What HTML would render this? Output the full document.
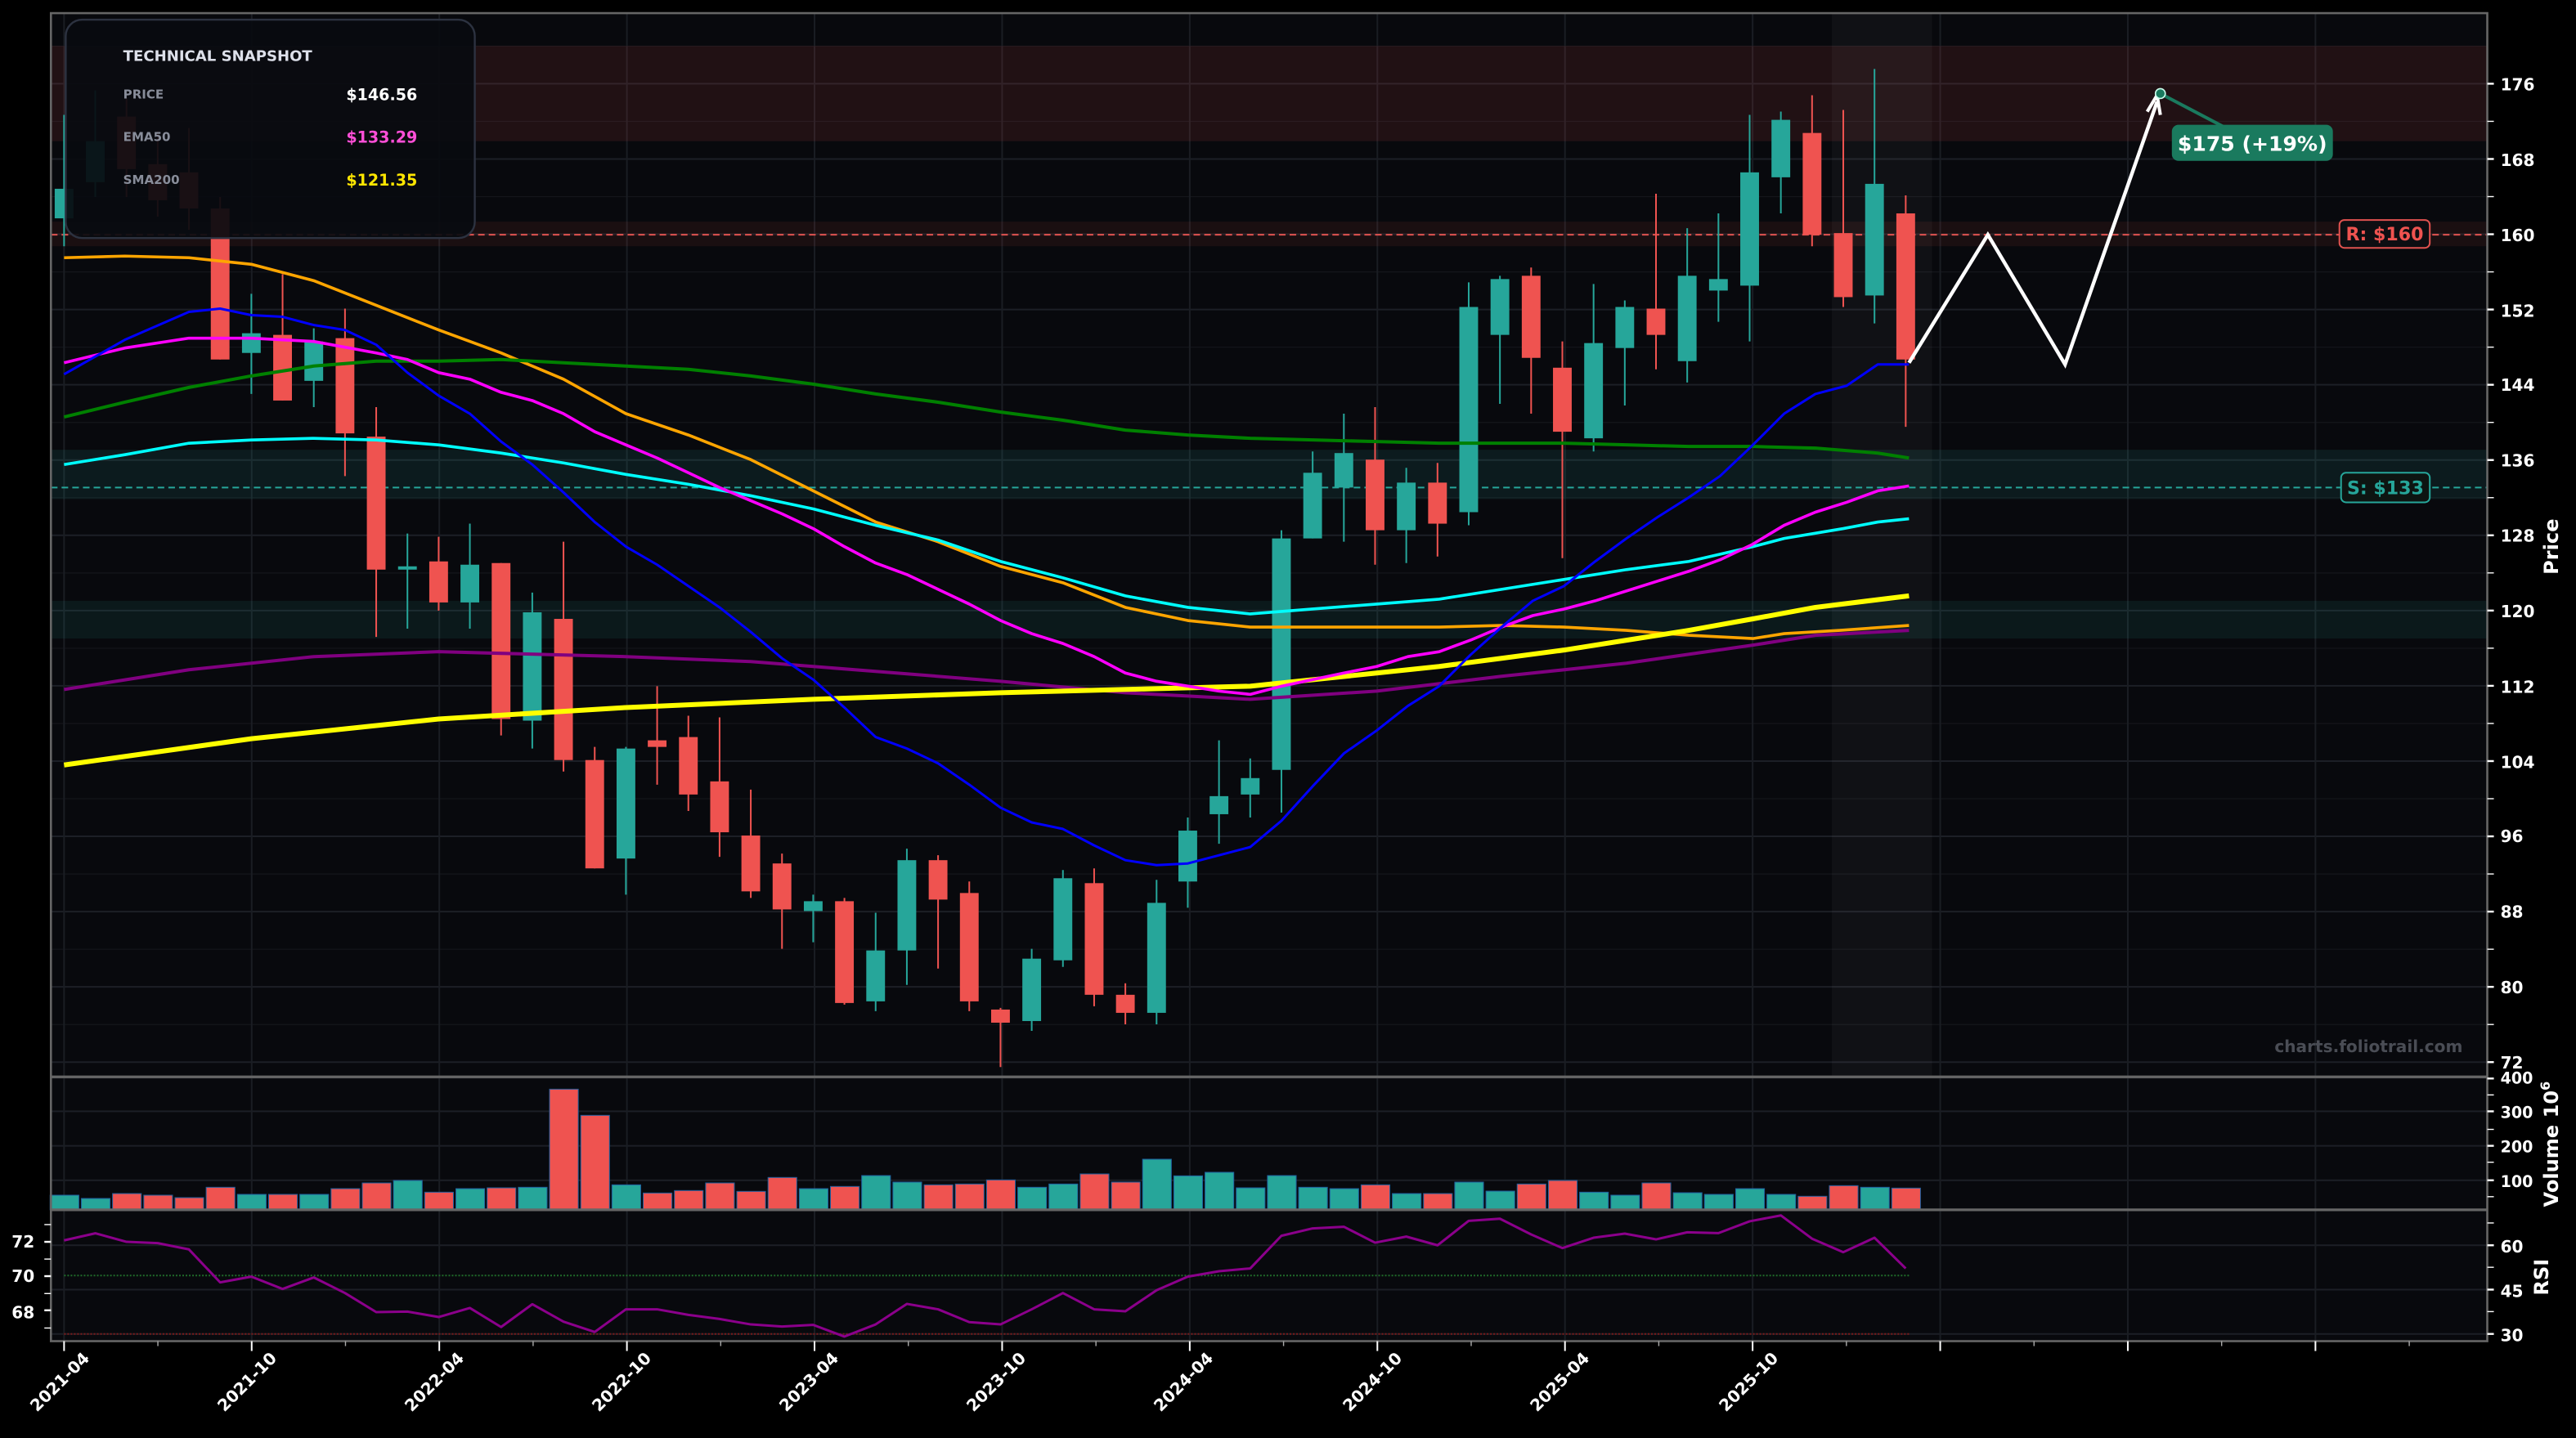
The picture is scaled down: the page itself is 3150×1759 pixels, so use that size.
<!DOCTYPE html>
<html><head><meta charset="utf-8">
<style>
html,body{margin:0;padding:0;background:#000;}
svg{display:block;}
text{font-family:"DejaVu Sans","Liberation Sans",sans-serif;font-weight:bold;}
</style></head>
<body>
<svg id="s" width="3150" height="1759" viewBox="0 0 1568 876" preserveAspectRatio="none" xmlns="http://www.w3.org/2000/svg">
<rect x="0" y="0" width="1568" height="876" fill="#000"/>
<rect x="31" y="8" width="1483" height="809" fill="#08090d"/>
<g id="grid"></g>
<rect x="31" y="28" width="1483" height="58" fill="rgba(239,83,80,0.11)"/>
<rect x="31" y="135" width="1483" height="15" fill="rgba(239,83,80,0.08)"/>
<rect x="31" y="274" width="1483" height="30" fill="rgba(38,166,154,0.12)"/>
<rect x="31" y="366" width="1483" height="23" fill="rgba(38,166,154,0.10)"/>
<rect x="1115" y="8" width="61" height="648" fill="rgba(255,255,255,0.035)"/>
<line x1="31" y1="143" x2="1514" y2="143" stroke="#e0524f" stroke-width="1" stroke-dasharray="4,2.5"/>
<line x1="31" y1="297" x2="1514" y2="297" stroke="#26a69a" stroke-width="1" stroke-dasharray="4,2.5"/>
<g id="candles"></g>
<g id="lines"></g>
<g id="vol"></g>
<g id="rsi"></g>
<polyline points="1162,221 1210,143 1257,222 1313,62" fill="none" stroke="#fff" stroke-width="2.2"/>
<polyline points="1307,68 1313,58 1315,70" fill="none" stroke="#fff" stroke-width="2"/>
<line x1="1315" y1="57" x2="1355" y2="78" stroke="#1a7a5e" stroke-width="2"/>
<circle cx="1315" cy="57" r="3" fill="#1a7a5e" stroke="#cfe" stroke-width="0.8"/>
<rect x="1322" y="76" width="98" height="22" rx="4" fill="#1a7a5e"/>
<text x="1371" y="92" font-size="12.5" fill="#fff" text-anchor="middle">$175 (+19%)</text>
<rect x="1424" y="134" width="55" height="17" rx="3" fill="#0d0e12" stroke="#e0524f" stroke-width="1"/>
<text x="1451.5" y="146.5" font-size="11" fill="#ef5350" text-anchor="middle">R: $160</text>
<rect x="1425" y="288" width="54" height="18" rx="3" fill="#0d1512" stroke="#26a69a" stroke-width="1"/>
<text x="1452" y="301" font-size="11" fill="#26a69a" text-anchor="middle">S: $133</text>
<text x="1499" y="641" font-size="10" fill="#4a4d55" text-anchor="end">charts.foliotrail.com</text>
<rect x="40" y="12" width="249" height="133" rx="10" fill="rgba(9,11,16,0.93)" stroke="#2c3240" stroke-width="1.2"/>
<text x="75" y="37" font-size="9" fill="#dde0ea">TECHNICAL SNAPSHOT</text>
<text x="75" y="60" font-size="7.5" fill="#888d9a">PRICE</text>
<text x="254" y="61" font-size="9.5" fill="#fff" text-anchor="end">$146.56</text>
<text x="75" y="86" font-size="7.5" fill="#888d9a">EMA50</text>
<text x="254" y="87" font-size="9.5" fill="#ff4fd8" text-anchor="end">$133.29</text>
<text x="75" y="112" font-size="7.5" fill="#888d9a">SMA200</text>
<text x="254" y="113" font-size="9.5" fill="#ffe600" text-anchor="end">$121.35</text>
<rect x="31" y="8" width="1483" height="809" fill="none" stroke="#666" stroke-width="1.3"/>
<line x1="31" y1="656" x2="1514" y2="656" stroke="#666" stroke-width="1.6"/>
<line x1="31" y1="737" x2="1514" y2="737" stroke="#666" stroke-width="1.6"/>
<g id="axes"></g>
<g font-size="10" fill="#fff">
<text x="1522" y="55">176</text><text x="1522" y="101">168</text><text x="1522" y="147">160</text>
<text x="1522" y="193">152</text><text x="1522" y="238">144</text><text x="1522" y="284">136</text>
<text x="1522" y="330">128</text><text x="1522" y="376">120</text><text x="1522" y="422">112</text>
<text x="1522" y="468">104</text><text x="1522" y="513">96</text><text x="1522" y="559">88</text>
<text x="1522" y="605">80</text><text x="1522" y="651">72</text>
<text x="1522" y="660" font-size="9.5">400</text><text x="1522" y="681" font-size="9.5">300</text>
<text x="1522" y="702" font-size="9.5">200</text><text x="1522" y="723" font-size="9.5">100</text>
<text x="1522" y="763">60</text><text x="1522" y="790">45</text><text x="1522" y="817">30</text>
<text x="21" y="760" text-anchor="end">72</text><text x="21" y="781" text-anchor="end">70</text><text x="21" y="803" text-anchor="end">68</text>
<text transform="translate(1557,333) rotate(-90)" text-anchor="middle" font-size="12">Price</text>
<text transform="translate(1557,697) rotate(-90)" text-anchor="middle" font-size="12">Volume  10<tspan font-size="8" dy="-5">6</tspan></text>
<text transform="translate(1551,778) rotate(-90)" text-anchor="middle" font-size="12">RSI</text>
<text transform="translate(55,828) rotate(-45)" text-anchor="end">2021-04</text>
<text transform="translate(169,828) rotate(-45)" text-anchor="end">2021-10</text>
<text transform="translate(283,828) rotate(-45)" text-anchor="end">2022-04</text>
<text transform="translate(397,828) rotate(-45)" text-anchor="end">2022-10</text>
<text transform="translate(511,828) rotate(-45)" text-anchor="end">2023-04</text>
<text transform="translate(625,828) rotate(-45)" text-anchor="end">2023-10</text>
<text transform="translate(739,828) rotate(-45)" text-anchor="end">2024-04</text>
<text transform="translate(854,828) rotate(-45)" text-anchor="end">2024-10</text>
<text transform="translate(968,828) rotate(-45)" text-anchor="end">2025-04</text>
<text transform="translate(1083,828) rotate(-45)" text-anchor="end">2025-10</text>
</g>
</svg>
<script>
var NS="http://www.w3.org/2000/svg";
function el(p,t,a){var e=document.createElementNS(NS,t);for(var k in a)e.setAttribute(k,a[k]);document.getElementById(p).appendChild(e);return e;}
for(var v=72;v<=176;v+=8){var y=51+(176-v)*5.731;el("grid","line",{x1:31,y1:y,x2:1514,y2:y,stroke:"#1c1f26","stroke-width":1});
 el("grid","line",{x1:31,y1:y-22.9,x2:1514,y2:y-22.9,stroke:"#14161b","stroke-width":0.6});}
[656.5,677,698,719].forEach(function(y){el("grid","line",{x1:31,y1:y,x2:1514,y2:y,stroke:"#1c1f26","stroke-width":1});});
[758.6,785.6,812.6].forEach(function(y){el("grid","line",{x1:31,y1:y,x2:1514,y2:y,stroke:"#1c1f26","stroke-width":1});});
for(var i=0;i<13;i++){var x=39+i*114.2;el("grid","line",{x1:x,y1:8,x2:x,y2:817,stroke:"#1a1d23","stroke-width":1});
 el("axes","line",{x1:x,y1:817,x2:x,y2:823,stroke:"#fff","stroke-width":1});
 el("axes","line",{x1:x+57.1,y1:817,x2:x+57.1,y2:820,stroke:"#aaa","stroke-width":0.7});}
for(var v=72;v<=176;v+=4){var y=51+(176-v)*5.731;el("axes","line",{x1:1514,y1:y,x2:1518,y2:y,stroke:"#fff","stroke-width":v%8==0?1.2:0.7});}
[657,677,698,719,667,688,708,729].forEach(function(y,i){el("axes","line",{x1:1514,y1:y,x2:1518,y2:y,stroke:"#fff","stroke-width":i<4?1.2:0.7});});
[758.6,785.6,812.6,745,772,799].forEach(function(y,i){el("axes","line",{x1:1514,y1:y,x2:1518,y2:y,stroke:"#fff","stroke-width":i<3?1.2:0.7});});
[756.5,777.4,798.2,746,767,788,809].forEach(function(y,i){el("axes","line",{x1:27,y1:y,x2:31,y2:y,stroke:"#fff","stroke-width":i<3?1.2:0.7});});
var C=[["g",115,133,70,150],["g",86,111,55,120],["r",71,103,60,120],["r",100,122,80,132],["r",105,127,78,140],
["r",127,219,120,219],["g",203,215,179,240],["r",204,244,167,244],["g",208,232,200,248],["r",206,264,188,290],
["r",266,347,248,388],["g",345,347,325,383],["r",342,367,327,372],["g",344,367,319,383],["r",343,438,343,448],
["g",373,439,361,456],["r",377,463,330,470],["r",463,529,455,529],["g",456,523,455,545],["r",451,455,418,478],
["r",449,484,436,494],["r",476,507,437,522],["r",509,543,481,547],["r",526,554,520,578],["g",549,555,545,574],
["r",549,611,547,612],["g",579,610,556,616],["g",524,579,517,600],["r",524,548,521,590],["r",544,610,537,616],
["r",615,623,614,650],["g",584,622,578,628],["g",535,585,530,589],["r",538,606,529,613],["r",606,617,599,624],
["g",550,617,536,624],["g",506,537,498,553],["g",485,496,451,514],["g",474,484,462,498],["g",328,469,323,495],
["g",288,328,275,328],["g",276,297,252,330],["r",280,323,248,344],["g",294,323,285,343],["r",294,319,282,339],
["g",187,312,172,320],["g",170,204,168,246],["r",168,218,163,252],["r",224,263,208,340],["g",209,267,173,275],
["g",187,212,183,247],["r",188,204,118,225],["g",168,220,139,233],["g",170,177,130,196],["g",105,174,70,208],
["g",73,108,68,130],["r",81,143,58,150],["r",142,181,67,187],["g",112,180,42,197],["r",130,219,119,260]];
C.forEach(function(c,i){var x=39+19*i,col=c[0]=="g"?"#26a69a":"#ef5350";
 el("candles","line",{x1:x,y1:c[3],x2:x,y2:c[4],stroke:col,"stroke-width":1});
 el("candles","rect",{x:x-5.7,y:c[1],width:11.4,height:Math.max(1.5,c[2]-c[1]),fill:col});});
function pl(pts,col,w){el("lines","polyline",{points:pts,fill:"none",stroke:col,"stroke-width":w,"stroke-linejoin":"round"});}
pl("39,157 76,156 115,157 153,161 191,171 229,186 267,201 305,215 343,231 381,252 419,265 457,280 495,299 533,318 571,330 609,345 647,355 685,370 723,378 761,382 799,382 838,382 876,382 914,381 952,382 990,384 1028,387 1067,389 1086,386 1120,384 1162,381","#ffa500",1.8);
pl("39,254 76,245 115,236 153,229 191,223 229,220 267,220 305,219 343,221 381,223 419,225 457,229 495,234 533,240 571,245 609,251 647,256 685,262 723,265 761,267 799,268 838,269 876,270 914,270 952,270 990,271 1028,272 1067,272 1105,273 1143,276 1162,279","#008000",2);
pl("39,283 76,277 115,270 153,268 191,267 229,268 267,271 305,276 343,282 381,289 419,295 457,302 495,310 533,320 571,329 609,342 647,352 685,363 723,370 761,374 799,371 838,368 876,365 914,359 952,353 990,347 1028,342 1067,333 1086,328 1122,322 1143,318 1162,316","#00ffff",1.8);
pl("39,420 115,408 191,400 267,397 305,398 381,400 457,403 533,409 609,415 685,422 723,424 761,426 838,421 914,412 990,404 1067,393 1105,387 1162,384","#800080",2);
pl("39,466 153,450 267,438 381,431 495,426 609,422 723,419 761,418 838,410 876,406 914,401 952,396 990,390 1028,384 1067,377 1105,370 1162,363","#ffff00",3);
pl("39,221 76,212 115,206 153,206 191,208 229,215 248,219 267,227 286,231 305,239 324,244 343,252 362,263 381,271 400,279 419,288 438,297 457,305 476,313 495,322 514,333 533,343 552,350 571,359 590,368 609,378 628,386 647,392 666,400 685,410 704,415 723,418 742,421 761,423 780,418 799,414 818,410 838,406 857,400 876,397 895,390 914,382 933,375 952,371 971,366 990,360 1009,354 1028,348 1047,341 1066,332 1086,320 1105,312 1124,306 1143,299 1162,296","#ff00ff",1.8);
pl("39,228 76,207 115,190 134,188 153,192 172,193 191,198 210,201 229,210 248,227 267,241 286,252 305,269 324,283 343,300 362,318 381,333 400,344 419,357 438,370 457,385 476,401 495,414 514,431 533,449 552,456 571,465 590,478 609,492 628,501 647,505 666,515 685,524 704,527 723,526 742,521 761,516 780,500 799,479 818,459 838,445 857,430 876,418 895,399 914,382 933,366 952,357 971,342 990,328 1009,315 1028,303 1047,290 1066,272 1086,252 1105,240 1124,235 1143,222 1162,222","#0000ff",1.5);
var VZ=[546,558,540,546,555,517,543,543,543,522,501,492,535,522,519,517,157,253,508,538,529,501,532,481,522,514,474,498,508,505,490,517,505,468,498,414,475,462,519,474,517,522,508,540,540,498,531,505,492,535,546,501,537,543,522,543,550,511,517,520];
VZ.forEach(function(z,i){var y=(1280+z/3)/2.008,col=C[i][0]=="g"?"#26a69a":"#ef5350";
 el("vol","rect",{x:30.5+19*i,y:y,width:17.5,height:737-y,fill:col,stroke:"#1f5f9f","stroke-width":0.5});});
el("rsi","line",{x1:39,y1:777,x2:1162,y2:777,stroke:"#1f6b2a","stroke-width":1,"stroke-dasharray":"1,1"});
el("rsi","line",{x1:39,y1:812.6,x2:1162,y2:812.6,stroke:"#7a1a1a","stroke-width":1,"stroke-dasharray":"1,1"});
var R=[712,686,717,722,745,866,845,890,848,905,975,973,993,960,1030,946,1010,1048,965,965,985,1000,1020,1028,1022,1065,1020,945,965,1012,1020,965,905,965,972,895,845,825,815,695,668,662,720,698,730,640,632,690,740,702,687,708,682,685,642,620,706,755,702,815];
var p=R.map(function(z,i){return (39+19*i)+","+((1280+z/3)/2.008).toFixed(1);}).join(" ");
el("rsi","polyline",{points:p,fill:"none",stroke:"#8b008b","stroke-width":1.5,"stroke-linejoin":"round"});
</script>
</body></html>
